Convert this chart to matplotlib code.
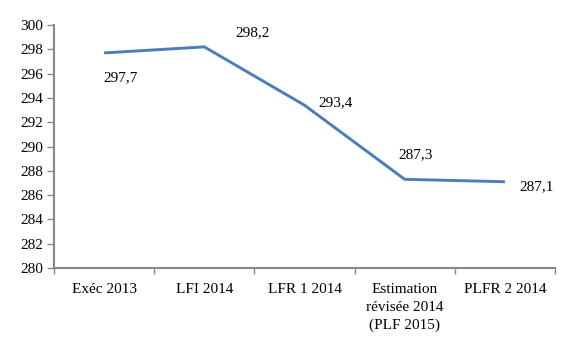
import matplotlib
matplotlib.use("Agg")
import matplotlib.pyplot as plt
from matplotlib.ticker import FixedLocator

plt.rcParams['font.family'] = ['Liberation Serif', 'DejaVu Serif']

categories = ["Exéc 2013", "LFI 2014", "LFR 1 2014", "Estimation\nrévisée 2014\n(PLF 2015)", "PLFR 2 2014"]
values = [297.7, 298.2, 293.4, 287.3, 287.1]
labels = ["297,7", "298,2", "293,4", "287,3", "287,1"]
label_offsets = [(16, -25), (48, 14), (31, 3), (11, 25), (32, -5)]  # pixels

fig = plt.figure(figsize=(5.71, 3.49), dpi=100)
ax = fig.add_axes([54/571, 1-268/349, (555-54)/571, (268-25)/349])

x = list(range(len(categories)))
ax.plot(x, values, color='#4a7ebb', lw=2.1, solid_capstyle='butt')

for xi, v, lab, (dx, dy) in zip(x, values, labels, label_offsets):
    ax.annotate(lab, (xi, v), xytext=(dx*0.72, dy*0.72), textcoords='offset points',
                ha='center', va='center', fontsize=11, color='black')

ax.set_xlim(-0.5, len(categories)-0.5)
ax.set_ylim(280, 300)
ax.set_yticks(range(280, 301, 2))
ax.set_xticks(x)
ax.set_xticklabels(categories, fontsize=11, linespacing=1.45)
ax.xaxis.set_minor_locator(FixedLocator([i - 0.5 for i in range(len(categories)+1)]))
ax.tick_params(axis='x', which='major', length=0, pad=11)
ax.tick_params(axis='x', which='minor', length=4, color='#888888', width=1)
ax.tick_params(axis='y', length=5, color='#888888', width=1, labelsize=11, pad=3)
for s in ['top', 'right']:
    ax.spines[s].set_visible(False)
for s in ['left', 'bottom']:
    ax.spines[s].set_color('#888888')
    ax.spines[s].set_linewidth(1.5)

fig.savefig("out.png", dpi=100)
